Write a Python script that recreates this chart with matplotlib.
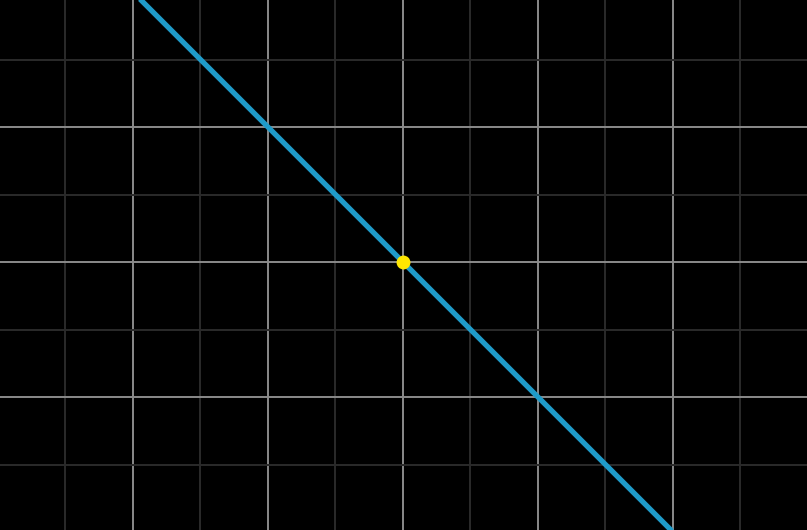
import numpy as np
import matplotlib
matplotlib.use("Agg")
from matplotlib import pyplot as plt
from matplotlib.ticker import MultipleLocator

# datos de la recta y = -x y el punto de origen
lineaX = [-3, 3]
lineaY = [3, -3]
puntoX = [0]
puntoY = [0]

miFigura = plt.figure(figsize=[8.07, 5.30], dpi=100)
miFigura.patch.set_facecolor("black")
ejes = miFigura.add_axes([0, 0, 1, 1])
ejes.set_facecolor("black")

ejes.set_xlim(-2.985, 2.993)
ejes.set_ylim(-1.985, 1.941)

ejes.xaxis.set_major_locator(MultipleLocator(1))
ejes.xaxis.set_minor_locator(MultipleLocator(0.5))
ejes.yaxis.set_major_locator(MultipleLocator(1))
ejes.yaxis.set_minor_locator(MultipleLocator(0.5))
ejes.grid(which="minor", color="#2b2b2b", linewidth=1.4)
ejes.grid(which="major", color="#8a8a8a", linewidth=1.4)
ejes.tick_params(which="both", length=0, labelbottom=False, labelleft=False)
for lado in ejes.spines.values():
    lado.set_visible(False)
ejes.set_axisbelow(True)

ejes.plot(lineaX, lineaY, color="#1f9bc9", linewidth=3.8, solid_capstyle="butt")
ejes.plot(puntoX, puntoY, "o", color="#ffe600", markersize=10, markeredgewidth=0)

miFigura.savefig("out.png", dpi=100, facecolor="black")
